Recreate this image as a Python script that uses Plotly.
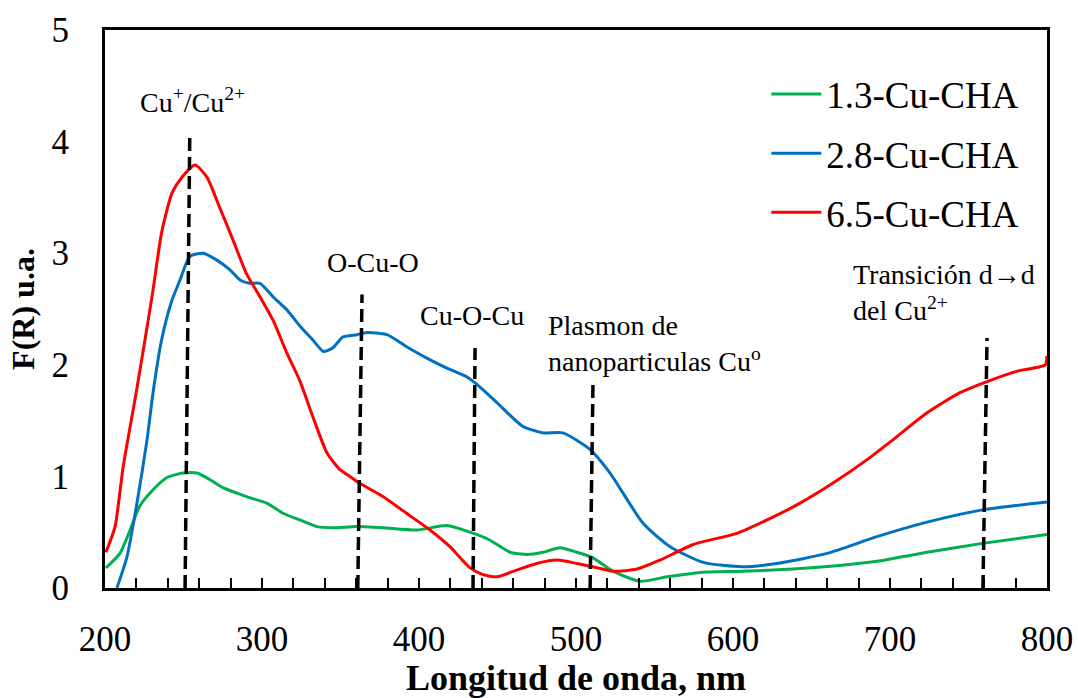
import plotly.graph_objects as go

# ---- data ----
x_red = [200.6, 206.4, 211.5, 219, 224, 230.6, 236, 242.7, 249, 257.3, 265, 273, 281.5, 290, 298.7,
         307, 316, 324, 332.5, 341.4, 349.7, 356, 362, 377, 392, 407, 419.7, 432.5, 440.8, 449.7,
         462, 475, 488, 500.6, 510.8, 523.6, 538.9, 553.5, 574.7, 602.5, 621.7, 642.7, 663.7,
         685.4, 702, 723.6, 744.6, 761.8, 783, 795, 799, 800]
y_red = [0.32, 0.55, 1.08, 1.68, 2.10, 2.67, 3.18, 3.54, 3.68, 3.79, 3.68, 3.41, 3.12, 2.82, 2.61,
         2.40, 2.10, 1.86, 1.53, 1.21, 1.06, 1.00, 0.94, 0.82, 0.67, 0.52, 0.37, 0.18, 0.12, 0.10,
         0.16, 0.22, 0.25, 0.22, 0.19, 0.15, 0.17, 0.25, 0.39, 0.49, 0.61, 0.76, 0.94,
         1.15, 1.33, 1.57, 1.75, 1.85, 1.95, 1.98, 2.0, 2.08]

x_blue = [207.6, 214, 220, 226.8, 230.6, 236, 242.7, 247.8, 254, 262.4, 271, 279.6, 286, 292,
          298.7, 307, 316, 324, 332.5, 339, 345, 351.6, 360.5, 366.9, 379.6, 392.4, 405, 417.8,
          430.6, 438.9, 449.7, 466, 479, 491.7, 509, 521.7, 542.7, 560, 581, 606, 628, 660,
          691.7, 723.6, 759, 800]
y_blue = [0.0, 0.28, 0.73, 1.33, 1.75, 2.22, 2.58, 2.76, 2.97, 3.0, 2.94, 2.85, 2.76, 2.73,
          2.73, 2.61, 2.49, 2.35, 2.22, 2.12, 2.15, 2.25, 2.27, 2.29, 2.27, 2.16, 2.06, 1.97,
          1.89, 1.80, 1.66, 1.45, 1.39, 1.39, 1.24, 1.03, 0.58, 0.37, 0.23, 0.19, 0.22, 0.31,
          0.46, 0.59, 0.70, 0.77]

x_green = [200.6, 209.5, 216, 222, 230.6, 239.5, 249.7, 258.6, 266.9, 275, 284, 292, 303, 313.4,
           324, 335, 345, 360.5, 377, 398.7, 417.8, 432.5, 445, 458, 468.8, 479, 489.8, 500.6,
           510.8, 523.6, 540.8, 558, 579, 606, 638, 666, 691.7, 723.6, 759, 800]
y_green = [0.18, 0.31, 0.52, 0.73, 0.88, 0.99, 1.03, 1.03, 0.97, 0.90, 0.85, 0.81, 0.76, 0.67,
           0.61, 0.55, 0.54, 0.55, 0.54, 0.52, 0.56, 0.50, 0.43, 0.32, 0.30, 0.32, 0.36, 0.32,
           0.27, 0.15, 0.06, 0.10, 0.14, 0.15, 0.17, 0.20, 0.24, 0.32, 0.40, 0.48]

series_names = ["1.3-Cu-CHA", "2.8-Cu-CHA", "6.5-Cu-CHA"]
series_colors = ["#00B050", "#0070C0", "#FF0000"]

# band marker lines (bottom x, top x, top y) and their labels
mark_x_bottom = [251, 361, 434.4, 509, 759.2]
mark_x_top = [254, 363.7, 435.7, 510.8, 761.8]
mark_y_top = [4.06, 2.63, 2.15, 1.82, 2.24]

label_texts = ["Cu<sup>+</sup>/Cu<sup>2+</sup>", "O-Cu-O", "Cu-O-Cu",
               "Plasmon de<br>nanoparticulas Cu<sup>o</sup>", "Transición d→d<br>del Cu<sup>2+</sup>"]
label_x = [256, 371, 434, 481, 675]
label_y = [4.37, 2.92, 2.44, 2.19, 2.65]
label_anchor = ["center", "center", "center", "left", "left"]

x_ticks = [200, 300, 400, 500, 600, 700, 800]
y_ticks = [0, 1, 2, 3, 4, 5]

FONT = "Liberation Serif, Times New Roman, serif"

fig = go.Figure()
for xs, ys, name, col in [(x_green, y_green, series_names[0], series_colors[0]),
                          (x_blue, y_blue, series_names[1], series_colors[1]),
                          (x_red, y_red, series_names[2], series_colors[2])]:
    fig.add_trace(go.Scatter(x=xs, y=ys, mode="lines", name=name, legendgroup=name,
                             line=dict(color=col, width=3, shape="spline", smoothing=0.6)))

for xb, xt, yt in zip(mark_x_bottom, mark_x_top, mark_y_top):
    fig.add_trace(go.Scatter(x=[xb, xt], y=[0, yt], mode="lines", showlegend=False,
                             hoverinfo="skip",
                             line=dict(color="black", width=3.5, dash="13px,6px")))

for t, lx, ly, a in zip(label_texts, label_x, label_y, label_anchor):
    fig.add_annotation(x=lx, y=ly, text=t, showarrow=False, xanchor=a, align="left",
                       font=dict(family=FONT, size=28, color="black"))

fig.update_layout(
    width=1078, height=698,
    margin=dict(l=105, r=31, t=30, b=110),
    paper_bgcolor="white", plot_bgcolor="white",
    font=dict(family=FONT, color="black"),
    legend=dict(x=0.702, y=0.94, xanchor="left", yanchor="top",
                font=dict(family=FONT, size=37, color="black"),
                tracegroupgap=8, bgcolor="rgba(0,0,0,0)", itemwidth=50),
)
fig.update_xaxes(range=[200, 800], tickvals=x_ticks, ticks="inside", ticklen=10, tickwidth=2,
                 tickcolor="black", automargin=False,
                 minor=dict(dtick=20, ticks="inside", ticklen=10, tickwidth=2, tickcolor="black"),
                 showline=True, linecolor="black", linewidth=3, mirror=True, showgrid=False,
                 zeroline=False, ticklabelstandoff=18,
                 tickfont=dict(family=FONT, size=35, color="black"),
                 title=dict(text="<b>Longitud de onda, nm</b>", standoff=14,
                            font=dict(family=FONT, size=36, color="black")))
fig.update_yaxes(range=[0, 5], tickvals=y_ticks, ticks="", showline=True, linecolor="black",
                 linewidth=3, mirror=True, showgrid=False, zeroline=False, ticklabelstandoff=26,
                 automargin=False,
                 tickfont=dict(family=FONT, size=35, color="black"),
                 title=dict(text="<b>F(R) u.a.</b>", standoff=8,
                            font=dict(family=FONT, size=32, color="black")))

fig.write_html("out.html")
